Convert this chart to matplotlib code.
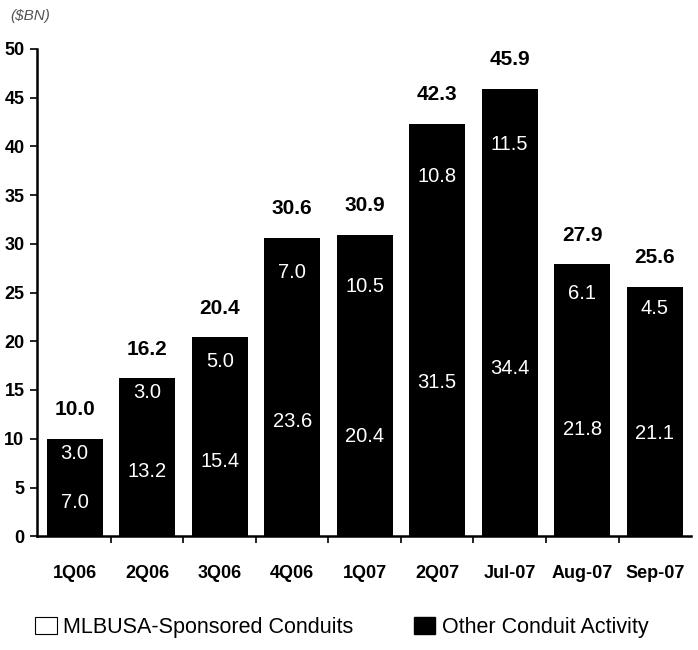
import matplotlib
matplotlib.use("Agg")
import matplotlib.pyplot as plt
from matplotlib.patches import Patch

plt.rcParams['font.family'] = ['Liberation Sans', 'DejaVu Sans']

periods = ["1Q06", "2Q06", "3Q06", "4Q06", "1Q07", "2Q07", "Jul-07", "Aug-07", "Sep-07"]
other_conduit = [7.0, 13.2, 15.4, 23.6, 20.4, 31.5, 34.4, 21.8, 21.1]
mlbusa_sponsored = [3.0, 3.0, 5.0, 7.0, 10.5, 10.8, 11.5, 6.1, 4.5]
totals = [10.0, 16.2, 20.4, 30.6, 30.9, 42.3, 45.9, 27.9, 25.6]
y_ticks = [0, 5, 10, 15, 20, 25, 30, 35, 40, 45, 50]

fig = plt.figure(figsize=(6.98, 6.5), dpi=100)
ax = fig.add_axes([0.053, 0.175, 0.937, 0.75])

x = list(range(len(periods)))
width = 0.77
ax.bar(x, other_conduit, width=width, color="black", edgecolor="none",
       linewidth=0, antialiased=False)
ax.bar(x, mlbusa_sponsored, width=width, bottom=other_conduit, color="black",
       edgecolor="none", linewidth=0, antialiased=False)

for xi, lo, hi, tot in zip(x, other_conduit, mlbusa_sponsored, totals):
    ax.text(xi, lo / 2, f"{lo:.1f}", color="white", ha="center", va="center", fontsize=14.5)
    ax.text(xi, lo + hi / 2, f"{hi:.1f}", color="white", ha="center", va="center", fontsize=14.5)
    ax.annotate(f"{tot:.1f}", (xi, tot), xytext=(0, 21), textcoords="offset points",
                ha="center", va="center", fontsize=15, fontweight="bold")

ax.set_ylim(0, 50)
ax.set_xlim(-0.52, len(periods) - 0.5)
ax.set_yticks(y_ticks)
ax.set_yticklabels([str(v) for v in y_ticks], fontsize=13, fontweight="bold")

# category boundaries get the tick marks; names sit between them
ax.set_xticks([i + 0.5 for i in x[:-1]])
ax.set_xticklabels([])
ax.set_xticks(x, minor=True)
ax.set_xticklabels(periods, minor=True, fontsize=13, fontweight="bold")
ax.tick_params(axis="x", which="major", length=5, width=1.2, direction="out")
ax.tick_params(axis="x", which="minor", length=0, pad=21)
ax.tick_params(axis="y", length=5, width=1.2, direction="out", pad=4)

for side in ("top", "right"):
    ax.spines[side].set_visible(False)
for side in ("left", "bottom"):
    ax.spines[side].set_linewidth(1.8)

fig.text(0.015, 0.975, "($BN)", fontsize=11, style="italic", color="#555555",
         ha="left", va="center")

handles = [Patch(facecolor="white", edgecolor="black", linewidth=0.8,
                 label="MLBUSA-Sponsored Conduits"),
           Patch(facecolor="black", edgecolor="black", label="Other Conduit Activity")]
fig.legend(handles=handles, loc="center", bbox_to_anchor=(0.49, 0.035), ncol=2,
           frameon=False, fontsize=15.5, columnspacing=2.8, handlelength=1.0,
           handleheight=0.9, handletextpad=0.3)

fig.savefig("out.png", dpi=100)
